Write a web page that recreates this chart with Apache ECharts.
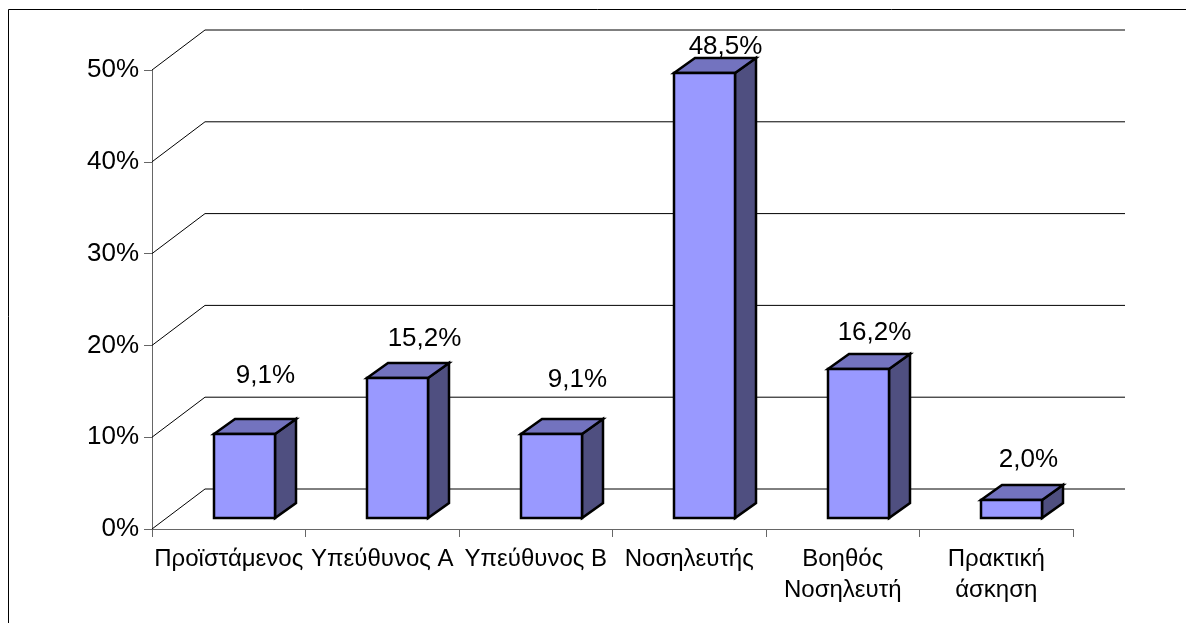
<!DOCTYPE html>
<html>
<head>
<meta charset="utf-8">
<style>
  html, body { margin: 0; padding: 0; background: #fff; }
  #main { width: 1186px; height: 623px; }
</style>
<script src="https://cdn.jsdelivr.net/npm/echarts@6/dist/echarts.min.js"></script>
</head>
<body>
<div id="main"></div>
<script>
const categories = ['Προϊστάμενος', 'Υπεύθυνος Α', 'Υπεύθυνος Β', 'Νοσηλευτής', 'Βοηθός\nΝοσηλευτή', 'Πρακτική\nάσκηση'];
const values = [9.1, 15.2, 9.1, 48.5, 16.2, 2.0];
const valueLabels = ['9,1%', '15,2%', '9,1%', '48,5%', '16,2%', '2,0%'];
const yTicks = [0, 10, 20, 30, 40, 50];

// hand placed labels, same as in the original chart (px, from the bar's top back edge)
const labelShiftX = [21, 27, 26, 21, 16, 17];
const labelShiftY = [-43, -24, -39, -11, -21, -25];

const FONT = '"Liberation Sans", Arial, sans-serif';
const wallDx = 53, wallDy = -40;   // back wall offset
const barDx = 15.5, barDy = -11;   // bar base offset from the floor front
const depthDx = 21, depthDy = -15; // bar depth
const barShare = 0.4;

function renderWall(params, api) {
    const sys = params.coordSys;
    const y = api.coord([0, api.value(1)])[1];
    return {
        type: 'polyline',
        silent: true,
        shape: { points: [[sys.x, y], [sys.x + wallDx, y + wallDy], [sys.x + sys.width + wallDx - 1, y + wallDy]] },
        style: { fill: null, stroke: '#000', lineWidth: 1 }
    };
}

function renderBar(params, api) {
    const i = api.value(0);
    const base = api.coord([i, 0]);
    const top = api.coord([i, api.value(1)]);
    const w = api.size([1, 0])[0] * barShare;
    const x0 = Math.round(base[0] + barDx - w / 2);
    const x1 = Math.round(x0 + w);
    const y0 = Math.round(base[1] + barDy);
    const y1 = Math.round(top[1] + barDy);
    const edge = { stroke: '#000', lineWidth: 2.5, lineJoin: 'miter' };
    const poly = (points, fill) => ({
        type: 'polygon',
        shape: { points: points },
        style: Object.assign({ fill: fill }, edge)
    });
    return {
        type: 'group',
        children: [
            poly([[x1, y0], [x1, y1], [x1 + depthDx, y1 + depthDy], [x1 + depthDx, y0 + depthDy]], '#4f4f80'),
            poly([[x0, y1], [x1, y1], [x1 + depthDx, y1 + depthDy], [x0 + depthDx, y1 + depthDy]], '#7373bf'),
            poly([[x0, y0], [x1, y0], [x1, y1], [x0, y1]], '#9999ff'),
            {
                type: 'text',
                style: {
                    x: (x0 + x1) / 2 + labelShiftX[i],
                    y: y1 + depthDy + labelShiftY[i],
                    text: valueLabels[i],
                    font: '26px ' + FONT,
                    fill: '#000',
                    textAlign: 'center',
                    textVerticalAlign: 'middle'
                }
            }
        ]
    };
}

const chart = echarts.init(document.getElementById('main'));
chart.setOption({
    animation: false,
    backgroundColor: '#fff',
    grid: { left: 152, top: 70, width: 921, height: 459 },
    graphic: [{
        type: 'polyline',
        silent: true,
        shape: { points: [[8.5, 623], [8.5, 9.5], [1186, 9.5]] },
        style: { fill: null, stroke: '#000', lineWidth: 1 }
    }],
    xAxis: {
        type: 'category',
        data: categories,
        axisLine: { show: true, lineStyle: { color: '#666', width: 1 } },
        axisTick: { show: true, alignWithLabel: false, length: 8, interval: 0, lineStyle: { color: '#666', width: 1 } },
        axisLabel: { interval: 0, margin: 15, color: '#000', fontSize: 24, lineHeight: 31, fontFamily: FONT }
    },
    yAxis: {
        type: 'value',
        min: 0,
        max: 50,
        interval: 10,
        splitLine: { show: false },
        axisLine: { show: true, lineStyle: { color: '#666', width: 1 } },
        axisTick: { show: true, length: 8, lineStyle: { color: '#666', width: 1 } },
        axisLabel: { margin: 13, color: '#000', fontSize: 26, fontFamily: FONT, formatter: '{value}%' }
    },
    series: [
        {
            type: 'custom',
            name: 'walls',
            renderItem: renderWall,
            data: yTicks.map(v => [0, v]),
            silent: true,
            clip: false,
            z: 1
        },
        {
            type: 'custom',
            name: 'bars',
            renderItem: renderBar,
            data: values.map((v, i) => [i, v]),
            clip: false,
            z: 2
        }
    ]
});
</script>
</body>
</html>
